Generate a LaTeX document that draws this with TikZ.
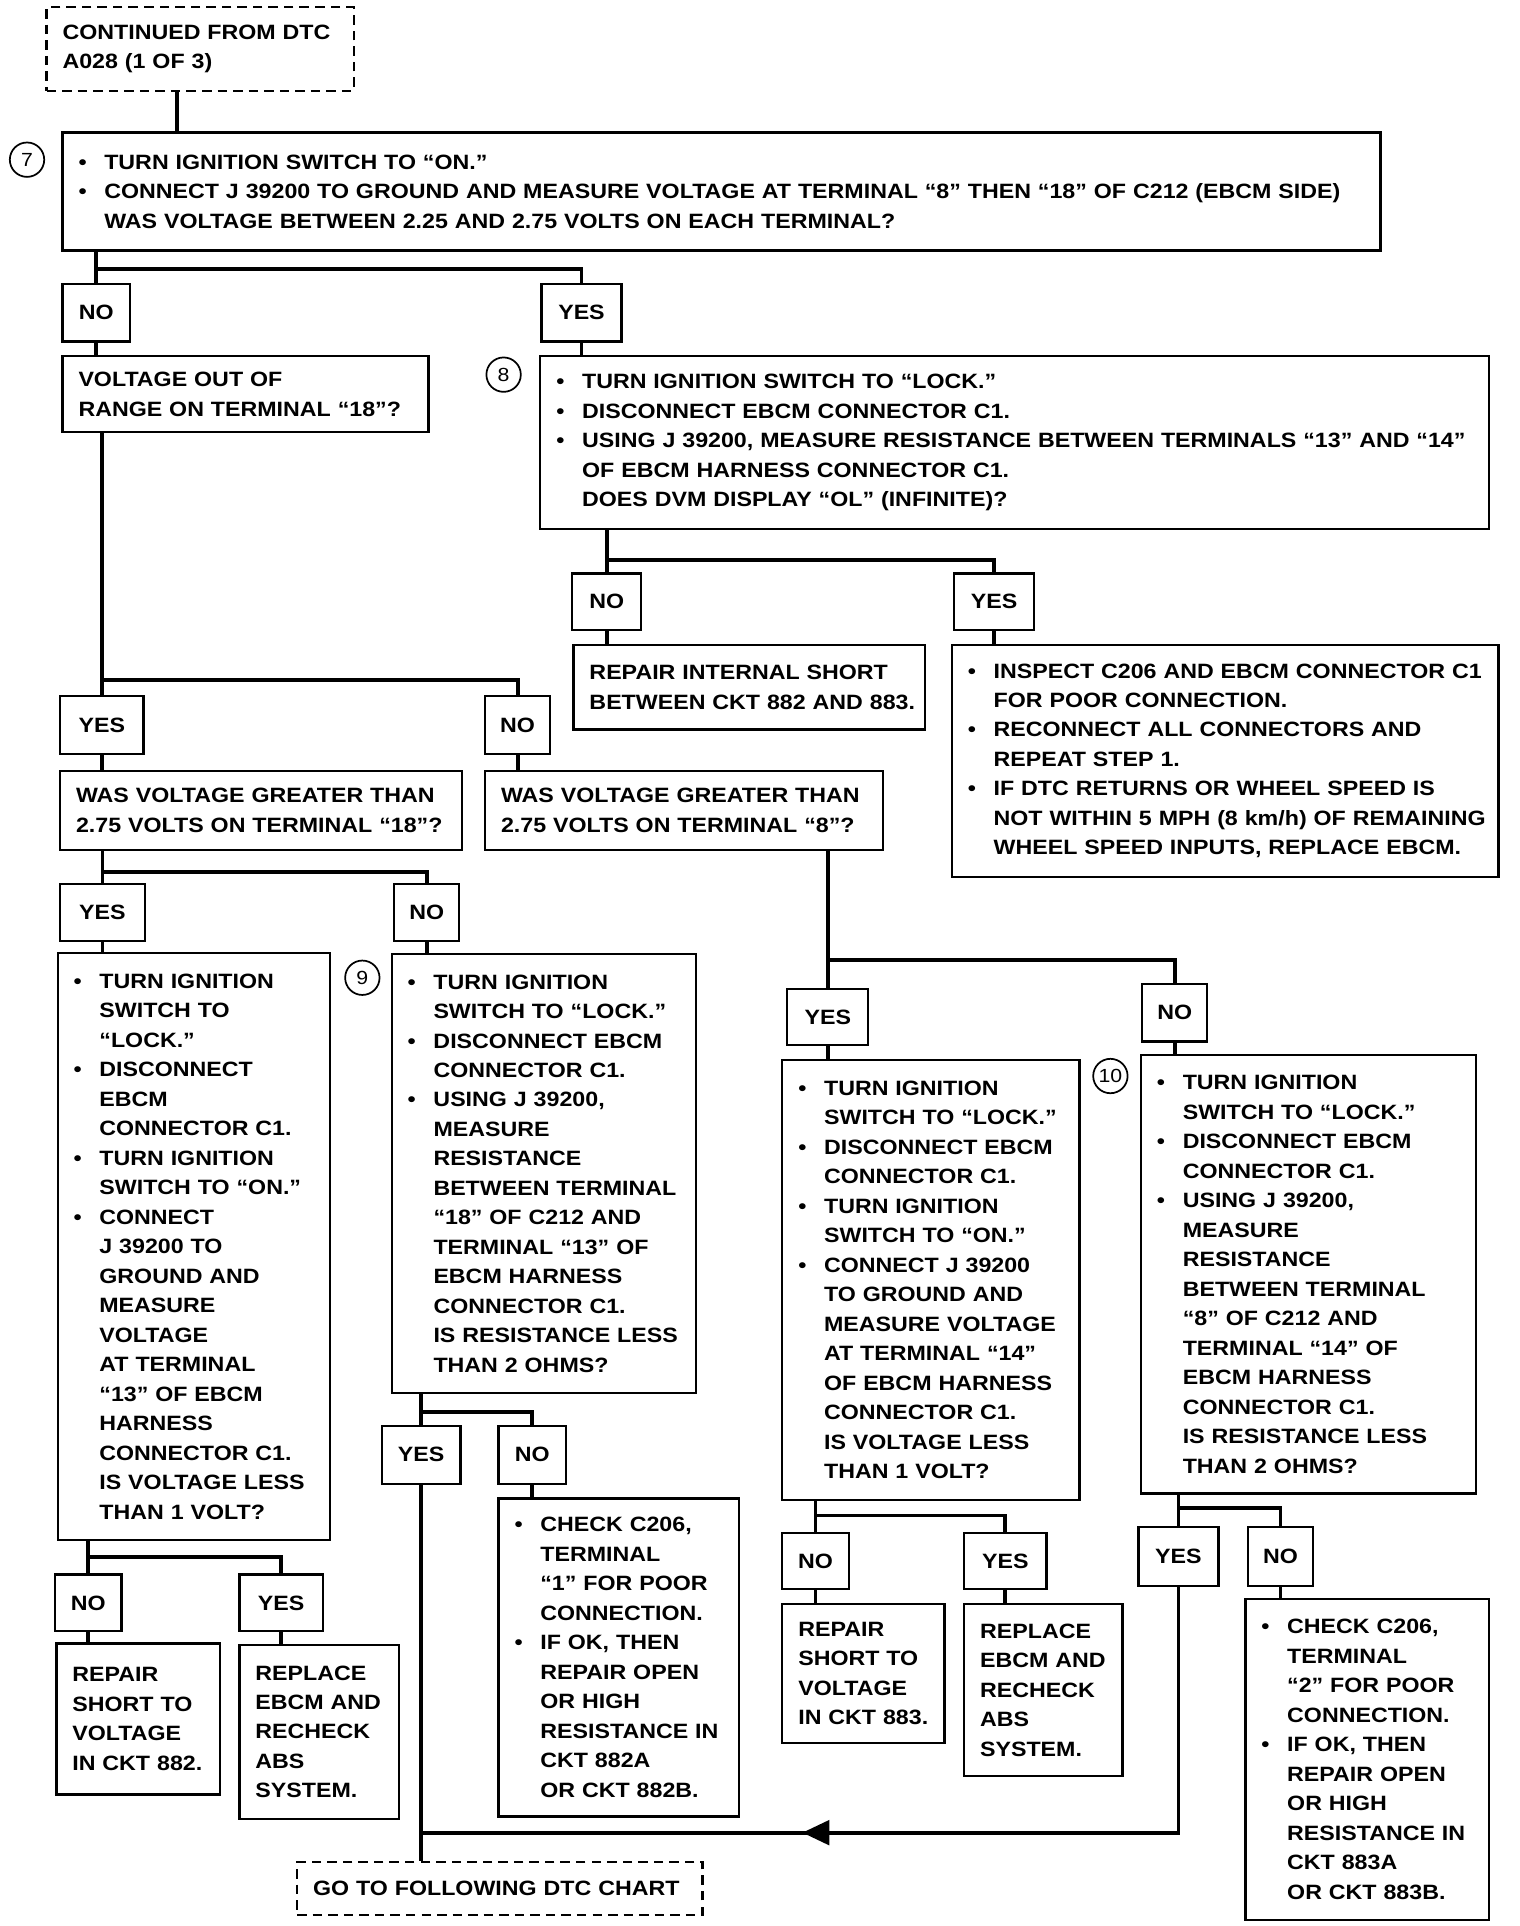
\documentclass[tikz,border=0pt]{standalone}
\usepackage{fontspec}
\setmainfont{Liberation Sans}[FakeStretch=1.12]
\usetikzlibrary{arrows.meta, calc, decorations.markings}
\newcommand{\chartfont}{\fontsize{12}{17.07}\selectfont\bfseries}
\newcommand{\bitem}[1]{\mbox{\makebox[0.525cm][l]{\textbullet}#1}}
\newcommand{\cont}[1]{\mbox{\hspace*{0.525cm}#1}}
\tikzset{
  box/.style 2 args={draw, line width=1.3pt, anchor=north west, align=left,
    inner xsep=0.325cm, inner ysep=0pt, text width=#1*0.025cm-0.65cm,
    minimum height=#2*0.025cm, font=\chartfont},
  ans/.style 2 args={draw, line width=1.3pt, anchor=north west, align=center,
    inner sep=0pt, minimum width=#1*0.025cm, minimum height=#2*0.025cm, font=\chartfont},
  term/.style 2 args={box={#1}{#2}, dash pattern=on 5.5pt off 3.5pt},
  stepno/.style={draw, circle, line width=1pt, minimum size=0.7cm, inner sep=0pt,
    font=\fontsize{11}{11}\selectfont},
  link/.style={line width=2.2pt},
}
% stub from parent to left answer, bus across to right answer
\newcommand{\fork}[4]{%
  \draw[link] (#1.south -| #2.north) -- (#2.north);
  \draw[link] ($(#1.south -| #2.north)+(0,#4)$) -| (#3.north);
}
\newcommand{\down}[2]{\draw[link] (#1.south) -- (#1.south |- #2.north);}
\begin{document}
\begin{tikzpicture}[x=0.025cm, y=-0.025cm]
  \useasboundingbox (0,0) rectangle (1237,1568);
  % step 7
  \node[term={250}{68}] (top) at (37,5) {CONTINUED FROM DTC\\A028 (1 OF 3)};
  \node[box={1073}{96}] (q7) at (50,107) {\bitem{TURN IGNITION SWITCH TO ``ON.''}\\
    \bitem{CONNECT J 39200 TO GROUND AND MEASURE VOLTAGE AT TERMINAL ``8'' THEN ``18'' OF C212 (EBCM SIDE)}\\
    \cont{WAS VOLTAGE BETWEEN 2.25 AND 2.75 VOLTS ON EACH TERMINAL?}};
  \node[stepno] (s7) at (22,130) {7};
  \node[ans={55}{47}] (no7) at (50,230) {NO};
  \node[ans={65}{47}] (yes7) at (440,230) {YES};
  \node[box={298}{62}] (range) at (50,289) {VOLTAGE OUT OF\\RANGE ON TERMINAL ``18''?};
  % step 8
  \node[box={772}{141}] (q8) at (439,289) {\bitem{TURN IGNITION SWITCH TO ``LOCK.''}\\
    \bitem{DISCONNECT EBCM CONNECTOR C1.}\\
    \bitem{USING J 39200, MEASURE RESISTANCE BETWEEN TERMINALS ``13'' AND ``14''}\\
    \cont{OF EBCM HARNESS CONNECTOR C1.}\\
    \cont{DOES DVM DISPLAY ``OL'' (INFINITE)?}};
  \node[stepno] (s8) at (410,305) {8};
  \node[ans={56}{46}] (no8) at (465,466) {NO};
  \node[ans={65}{46}] (yes8) at (776,466) {YES};
  \node[box={286}{69}] (fix8) at (466,524) {\mbox{REPAIR INTERNAL SHORT}\\\mbox{BETWEEN CKT 882 AND 883.}};
  \node[box={445}{189}] (insp8) at (774,524) {\bitem{INSPECT C206 AND EBCM CONNECTOR C1}\\
    \cont{FOR POOR CONNECTION.}\\
    \bitem{RECONNECT ALL CONNECTORS AND}\\
    \cont{REPEAT STEP 1.}\\
    \bitem{IF DTC RETURNS OR WHEEL SPEED IS}\\
    \cont{NOT WITHIN 5 MPH (8 km/h) OF REMAINING}\\
    \cont{WHEEL SPEED INPUTS, REPLACE EBCM.}};
  % voltage out of range
  \node[ans={68}{47}] (yesR) at (48,566) {YES};
  \node[ans={53}{47}] (noR) at (394,566) {NO};
  \node[box={327}{64}] (hi18) at (48,627) {WAS VOLTAGE GREATER THAN\\2.75 VOLTS ON TERMINAL ``18''?};
  \node[box={324}{64}] (hi8) at (394,627) {WAS VOLTAGE GREATER THAN\\2.75 VOLTS ON TERMINAL ``8''?};
  \node[ans={69}{46}] (yes18) at (48,719) {YES};
  \node[ans={53}{46}] (no18) at (320,719) {NO};
  \node[ans={66}{46}] (yesT8) at (640,804) {YES};
  \node[ans={53}{47}] (noT8) at (929,800) {NO};
  % steps 9 and 10
  \node[box={222}{478}] (lo13) at (46,775) {\bitem{TURN IGNITION}\\ \cont{SWITCH TO}\\ \cont{``LOCK.''}\\
    \bitem{DISCONNECT}\\ \cont{EBCM}\\ \cont{CONNECTOR C1.}\\
    \bitem{TURN IGNITION}\\ \cont{SWITCH TO ``ON.''}\\
    \bitem{CONNECT}\\ \cont{J 39200 TO}\\ \cont{GROUND AND}\\ \cont{MEASURE}\\ \cont{VOLTAGE}\\
    \cont{AT TERMINAL}\\ \cont{``13'' OF EBCM}\\ \cont{HARNESS}\\ \cont{CONNECTOR C1.}\\
    \cont{IS VOLTAGE LESS}\\ \cont{THAN 1 VOLT?}};
  \node[box={248}{357}] (q9) at (318,776) {\bitem{TURN IGNITION}\\ \cont{SWITCH TO ``LOCK.''}\\
    \bitem{DISCONNECT EBCM}\\ \cont{CONNECTOR C1.}\\
    \bitem{USING J 39200,}\\ \cont{MEASURE}\\ \cont{RESISTANCE}\\ \cont{BETWEEN TERMINAL}\\
    \cont{``18'' OF C212 AND}\\ \cont{TERMINAL ``13'' OF}\\ \cont{EBCM HARNESS}\\ \cont{CONNECTOR C1.}\\
    \cont{IS RESISTANCE LESS}\\ \cont{THAN 2 OHMS?}};
  \node[stepno] (s9) at (295,796) {9};
  \node[box={242}{358}] (lo14) at (636,862) {\bitem{TURN IGNITION}\\ \cont{SWITCH TO ``LOCK.''}\\
    \bitem{DISCONNECT EBCM}\\ \cont{CONNECTOR C1.}\\
    \bitem{TURN IGNITION}\\ \cont{SWITCH TO ``ON.''}\\
    \bitem{CONNECT J 39200}\\ \cont{TO GROUND AND}\\ \cont{MEASURE VOLTAGE}\\ \cont{AT TERMINAL ``14''}\\
    \cont{OF EBCM HARNESS}\\ \cont{CONNECTOR C1.}\\ \cont{IS VOLTAGE LESS}\\ \cont{THAN 1 VOLT?}};
  \node[box={273}{357}] (q10) at (928,858) {\bitem{TURN IGNITION}\\ \cont{SWITCH TO ``LOCK.''}\\
    \bitem{DISCONNECT EBCM}\\ \cont{CONNECTOR C1.}\\
    \bitem{USING J 39200,}\\ \cont{MEASURE}\\ \cont{RESISTANCE}\\ \cont{BETWEEN TERMINAL}\\
    \cont{``8'' OF C212 AND}\\ \cont{TERMINAL ``14'' OF}\\ \cont{EBCM HARNESS}\\ \cont{CONNECTOR C1.}\\
    \cont{IS RESISTANCE LESS}\\ \cont{THAN 2 OHMS?}};
  \node[stepno] (s10) at (904,876) {10};
  % answers and repairs
  \node[ans={54}{46}] (no13) at (44,1281) {NO};
  \node[ans={68}{46}] (yes13) at (194,1281) {YES};
  \node[box={133}{123}] (short882) at (45,1337) {REPAIR\\SHORT TO\\VOLTAGE\\IN CKT 882.};
  \node[box={130}{142}] (repl1) at (194,1338) {REPLACE\\EBCM AND\\RECHECK\\ABS\\SYSTEM.};
  \node[ans={64}{47}] (yes9) at (310,1160) {YES};
  \node[ans={55}{47}] (no9) at (405,1160) {NO};
  \node[box={196}{259}] (chk1) at (405,1219) {\bitem{CHECK C206,}\\ \cont{TERMINAL}\\ \cont{``1'' FOR POOR}\\
    \cont{CONNECTION.}\\ \bitem{IF OK, THEN}\\ \cont{REPAIR OPEN}\\ \cont{OR HIGH}\\
    \cont{RESISTANCE IN}\\ \cont{CKT 882A}\\ \cont{OR CKT 882B.}};
  \node[ans={54}{46}] (no14) at (636,1247) {NO};
  \node[ans={67}{46}] (yes14) at (784,1247) {YES};
  \node[box={132}{113}] (short883) at (636,1305) {REPAIR\\SHORT TO\\VOLTAGE\\IN CKT 883.};
  \node[box={129}{140}] (repl2) at (784,1305) {REPLACE\\EBCM AND\\RECHECK\\ABS\\SYSTEM.};
  \node[ans={65}{48}] (yes10) at (926,1242) {YES};
  \node[ans={53}{48}] (no10) at (1015,1242) {NO};
  \node[box={198}{261}] (chk2) at (1013,1301) {\bitem{CHECK C206,}\\ \cont{TERMINAL}\\ \cont{``2'' FOR POOR}\\
    \cont{CONNECTION.}\\ \bitem{IF OK, THEN}\\ \cont{REPAIR OPEN}\\ \cont{OR HIGH}\\
    \cont{RESISTANCE IN}\\ \cont{CKT 883A}\\ \cont{OR CKT 883B.}};
  \node[term={330}{43}] (goto) at (241,1515) {GO TO FOLLOWING DTC CHART};
  % connectors
  \coordinate (t0) at ($(top.south)+(-19,0)$);
  \draw[link] (t0) -- (t0 |- q7.north);
  \fork{q7}{no7}{yes7}{14}
  \down{no7}{range} \down{yes7}{q8}
  \fork{q8}{no8}{yes8}{24}
  \down{no8}{fix8} \down{yes8}{insp8}
  \fork{range}{yesR}{noR}{201}
  \down{yesR}{hi18} \down{noR}{hi8}
  \fork{hi18}{yes18}{no18}{17}
  \down{yes18}{lo13} \down{no18}{q9}
  \fork{hi8}{yesT8}{noT8}{89}
  \down{yesT8}{lo14} \down{noT8}{q10}
  \fork{lo13}{no13}{yes13}{13}
  \down{no13}{short882} \down{yes13}{repl1}
  \fork{q9}{yes9}{no9}{15}
  \down{no9}{chk1}
  \fork{lo14}{no14}{yes14}{12}
  \down{no14}{short883} \down{yes14}{repl2}
  \fork{q10}{yes10}{no10}{11}
  \down{no10}{chk2}
  \down{yes9}{goto}
  \coordinate (merge) at ($(yes9.south |- goto.north)+(0,-23)$);
  \draw[link, postaction={decorate}, decoration={markings,
      mark=at position 0.62 with {\arrow{Triangle[length=0.55cm, width=0.5cm]}}}]
    (yes10.south) |- (merge);
\end{tikzpicture}
\end{document}
